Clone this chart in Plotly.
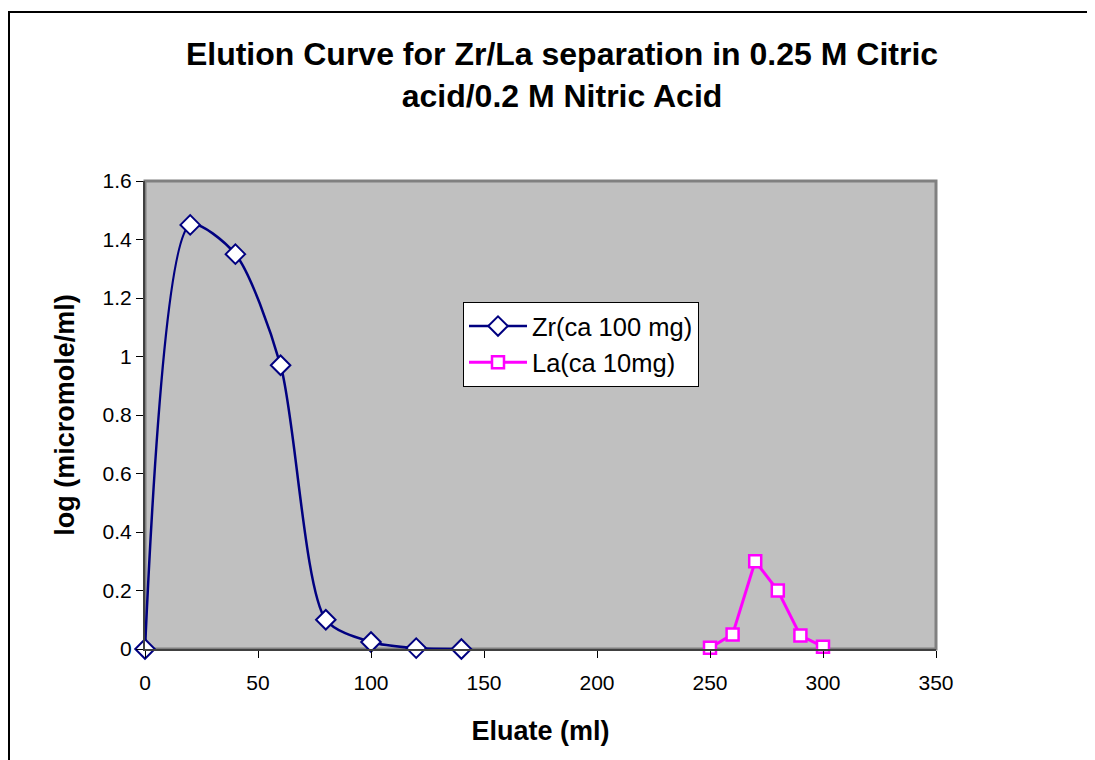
import plotly.graph_objects as go

# Zr elution (ml, log micromole/ml)
zr_x = [0, 20, 40, 60, 80, 100, 120, 140]
zr_y = [0, 1.45, 1.35, 0.97, 0.10, 0.024, 0.003, 0.0]

# La elution
la_x = [250, 260, 270, 280, 290, 300]
la_y = [0.004, 0.05, 0.30, 0.20, 0.046, 0.008]

x_ticks = [0, 50, 100, 150, 200, 250, 300, 350]
y_ticks = [0, 0.2, 0.4, 0.6, 0.8, 1.0, 1.2, 1.4, 1.6]

FONT = "Liberation Sans, Arial, sans-serif"
# page has an 8px body margin, so work in figure pixels = screen - 8
OFF = 8
W, H = 1095 - OFF, 760 - OFF
L, R, T, B = 145 - OFF, 936 - OFF, 181 - OFF, 649 - OFF


def px_x(p):
    return (p - OFF - L) / (R - L)


def px_y(p):
    return (B - (p - OFF)) / (B - T)


fig = go.Figure()

fig.add_trace(
    go.Scatter(
        name="Zr(ca 100 mg)",
        x=zr_x,
        y=zr_y,
        mode="lines+markers",
        line=dict(color="#000080", width=2.5, shape="spline", smoothing=0.75),
        marker=dict(symbol="diamond", size=15, color="white",
                    line=dict(color="#000080", width=2)),
        cliponaxis=False,
    )
)

fig.add_trace(
    go.Scatter(
        name="La(ca 10mg)",
        x=la_x,
        y=la_y,
        mode="lines+markers",
        line=dict(color="#FF00FF", width=3),
        marker=dict(symbol="square", size=12, color="white",
                    line=dict(color="#FF00FF", width=2.5)),
        cliponaxis=False,
    )
)

fig.update_layout(
    width=W,
    height=H,
    margin=dict(l=L, r=W - R, t=T, b=H - B),
    paper_bgcolor="white",
    plot_bgcolor="#C0C0C0",
    font=dict(family=FONT, color="black"),
    title=dict(
        text="<b>Elution Curve for Zr/La separation in 0.25 M Citric<br>acid/0.2 M Nitric Acid</b>",
        x=(562 - OFF) / W,
        xanchor="center",
        y=1 - (65 - OFF) / H,
        yanchor="top",
        font=dict(size=32, family=FONT),
    ),
    showlegend=True,
    legend=dict(
        x=px_x(463),
        y=px_y(302),
        xanchor="left",
        yanchor="top",
        bgcolor="white",
        bordercolor="black",
        borderwidth=1,
        font=dict(size=25.5, family=FONT),
        itemwidth=58,
        tracegroupgap=0,
    ),
    xaxis=dict(
        range=[0, 350],
        tickvals=x_ticks,
        ticks="outside",
        ticklen=7,
        tickcolor="black",
        ticklabelstandoff=7,
        showline=True,
        linecolor="#404040",
        linewidth=2,
        showgrid=False,
        zeroline=False,
        tickfont=dict(size=21, family=FONT),
        title=dict(text="<b>Eluate (ml)</b>", font=dict(size=27, family=FONT), standoff=28),
    ),
    yaxis=dict(
        range=[0, 1.6],
        tickvals=y_ticks,
        ticks="outside",
        ticklen=7,
        tickcolor="black",
        showline=True,
        linecolor="#404040",
        linewidth=2,
        showgrid=False,
        zeroline=False,
        tickfont=dict(size=21, family=FONT),
        title=dict(text="<b>log (micromole/ml)</b>", font=dict(size=27, family=FONT), standoff=20),
    ),
)

# plot-area frame (grey top/right edges)
fig.add_shape(
    type="rect", xref="paper", yref="paper", x0=0, y0=0, x1=1, y1=1,
    line=dict(color="#808080", width=3), layer="below",
)

# outer chart border (left edge sits at the very edge of the figure)
fig.add_shape(
    type="rect", xref="paper", yref="paper",
    x0=(1 - L) / (R - L), y0=px_y(790), x1=px_x(1120), y1=px_y(12),
    line=dict(color="black", width=2),
)

fig.write_html("out.html")
